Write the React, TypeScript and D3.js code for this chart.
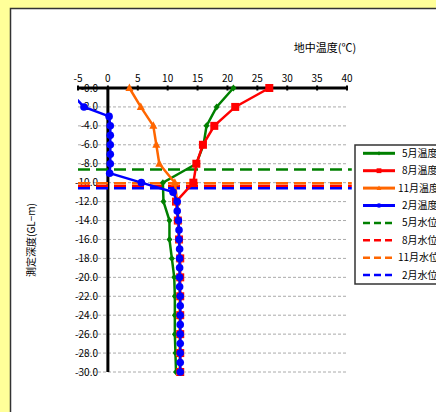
import React from "react";
import * as d3 from "d3";

const depths2 = [0, -2, -4, -6, -8, -10, -12, -14, -16, -18, -20, -22, -24, -26, -28, -30];
const depths1 = d3.range(0, -31, -1);

const mayTemp = [21, 18.2, 16.5, 16.0, 14.8, 9.2, 9.3, 10.3, 10.3, 10.7, 11.1, 11.2, 11.2, 11.2, 11.3, 11.4];
const augTemp = [27.0, 21.3, 17.8, 15.9, 14.8, 14.3, 11.4, 11.7, 11.9, 12.1, 12.1, 12.1, 12.1, 12.1, 12.1, 12.1];
const novTemp = [3.6, 5.5, 7.6, 8.1, 8.6, 11.2, 11.6, 11.8, 11.9, 12.0, 12.0, 12.0, 12.0, 12.0, 12.0, 12.0];
const febTemp = [
  -8, -5.5, -4.0, 0.2, 0.4, 0.4, 0.4, 0.4, 0.4, 0.3, 5.6, 10.9, 11.6, 11.6, 11.8, 11.9,
  11.9, 12.0, 12.0, 12.0, 12.0, 12.0, 12.1, 12.1, 12.1, 12.1, 12.1, 12.1, 12.1, 12.1, 12.1,
];

const waterNames = ["5月水位", "8月水位", "11月水位", "2月水位"];
const waterLevels = [-8.6, -10.35, -10.05, -10.6];
const waterColors = ["#008000", "#FF0000", "#FF6600", "#0000FF"];

const tempNames = ["5月温度", "8月温度", "11月温度", "2月温度"];
const tempColors = ["#008000", "#FF0000", "#FF6600", "#0000FF"];
const tempMarkers = ["diamond", "square", "triangle", "circle"];

const xTicks = [-5, 0, 5, 10, 15, 20, 25, 30, 35, 40];
const yTicks = d3.range(0, -31, -2);

const FONT = "'Noto Sans CJK JP', 'Noto Sans', sans-serif";

function Marker({ type, x, y, color, s = 1 }: { type: string; x: number; y: number; color: string; s?: number }) {
  if (type === "square") return <rect x={x - 4 * s} y={y - 4 * s} width={8 * s} height={8 * s} fill={color} />;
  if (type === "circle") return <circle cx={x} cy={y} r={3.8 * s} fill={color} />;
  if (type === "triangle")
    return <path d={`M${x},${y - 4.5 * s}L${x + 4 * s},${y + 3 * s}L${x - 4 * s},${y + 3 * s}Z`} fill={color} />;
  return <path d={`M${x},${y - 3.5 * s}L${x + 3 * s},${y}L${x},${y + 3.5 * s}L${x - 3 * s},${y}Z`} fill={color} />;
}

export default function App() {
  const W = 436, H = 412;
  const x = d3.scaleLinear().domain([-5, 40]).range([78, 347]);
  const y = d3.scaleLinear().domain([-30, 0]).range([372, 88]);
  const line = d3.line<[number, number]>().x((d) => x(d[0])).y((d) => y(d[1]));

  const series = [
    { temps: mayTemp, depths: depths2 },
    { temps: augTemp, depths: depths2 },
    { temps: novTemp, depths: depths2 },
    { temps: febTemp, depths: depths1 },
  ];

  const legendItems = [
    ...tempNames.map((n, i) => ({ name: n, color: tempColors[i], marker: tempMarkers[i], dashed: false })),
    ...waterNames.map((n, i) => ({ name: n, color: waterColors[i], marker: "", dashed: true })),
  ];

  return (
    <svg width={W} height={H} style={{ position: "fixed", left: 0, top: 0 }}>
      <defs>
        <clipPath id="plot">
          <rect x={x(-5)} y={y(0) - 6} width={x(40) - x(-5)} height={y(-30) - y(0) + 12} />
        </clipPath>
      </defs>
      <rect x={0} y={0} width={W} height={H} fill="#FFFF99" />
      <rect x={10.5} y={8.5} width={W} height={H} fill="#fff" stroke="#333" strokeWidth={1.5} />

      {yTicks.filter((t) => t !== 0).map((t) => (
        <line key={t} x1={x(-5)} x2={x(40)} y1={y(t)} y2={y(t)} stroke="#aaa" strokeWidth={1} strokeDasharray="3,2" />
      ))}

      {yTicks.map((t) => (
        <text key={t} x={98} y={y(t)} dy="0.35em" textAnchor="end" fontFamily={FONT} fontSize={10} fill="#000">
          {t === 0 ? "-0.0" : d3.format(".1f")(t).replace("−", "-")}
        </text>
      ))}

      <line x1={x(0)} x2={x(0)} y1={y(0)} y2={y(-30)} stroke="#000" strokeWidth={3} />
      <line x1={x(-5)} x2={x(40)} y1={y(0)} y2={y(0)} stroke="#000" strokeWidth={3} />
      {xTicks.map((t) => (
        <g key={t}>
          <line x1={x(t)} x2={x(t)} y1={y(0) - 2.5} y2={y(0) + 2.5} stroke="#000" strokeWidth={2} />
          <text x={x(t)} y={82} textAnchor="middle" fontFamily={FONT} fontSize={10} fill="#000">
            {t < 0 ? "-" + Math.abs(t) : t}
          </text>
        </g>
      ))}

      {waterLevels.map((w, i) => (
        <line key={i} x1={x(-5)} x2={x(40.8)} y1={y(w)} y2={y(w)} stroke={waterColors[i]} strokeWidth={2.5} strokeDasharray="12,6" />
      ))}

      <g clipPath="url(#plot)">
        {series.map((s, i) => {
          const pts: [number, number][] = s.temps.map((t, j) => [t, s.depths[j]]);
          return (
            <g key={i}>
              <path d={line(pts) || ""} fill="none" stroke={tempColors[i]} strokeWidth={2.5} />
              {pts.filter((p) => p[0] >= -5).map((p, j) => (
                <Marker key={j} type={tempMarkers[i]} x={x(p[0])} y={y(p[1])} color={tempColors[i]} />
              ))}
            </g>
          );
        })}
      </g>

      <text x={325} y={52} textAnchor="middle" fontFamily={FONT} fontSize={11} fill="#000">地中温度(℃)</text>
      <text transform="translate(35,240) rotate(-90)" textAnchor="middle" fontFamily={FONT} fontSize={10} fill="#000">
        測定深度(GL−m)
      </text>

      <rect x={355} y={145} width={100} height={139} fill="#fff" stroke="#333" strokeWidth={1.5} />
      {legendItems.map((it, i) => {
        const ly = 153.3 + i * 17.4;
        return (
          <g key={i}>
            <line x1={363} x2={395} y1={ly} y2={ly} stroke={it.color} strokeWidth={it.dashed ? 2.5 : 3} strokeDasharray={it.dashed ? "7,4" : undefined} />
            {!it.dashed && <Marker type={it.marker} x={379} y={ly} color={it.color} s={0.6} />}
            <text x={it.name.length > 4 ? 398 : 402} y={ly} dy="0.35em" fontFamily={FONT} fontSize={10} fill="#000">
              {it.name}
            </text>
          </g>
        );
      })}
    </svg>
  );
}
